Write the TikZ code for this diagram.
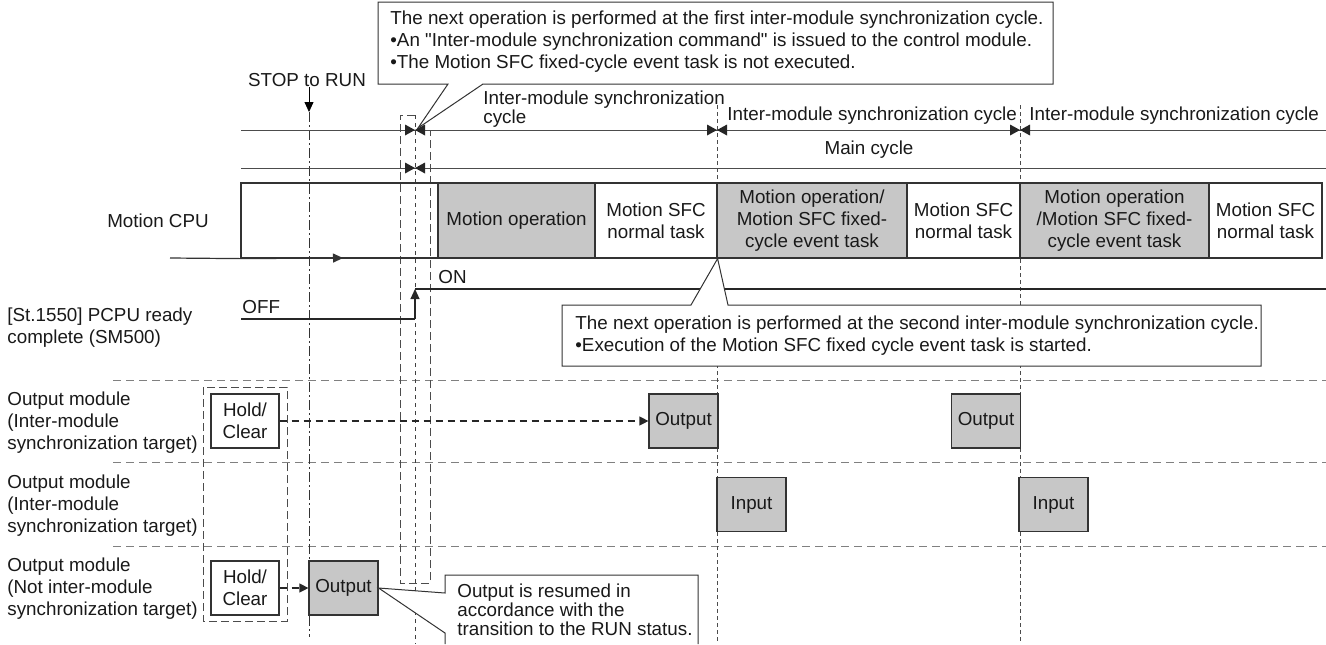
\documentclass[tikz,border=0pt]{standalone}
\usepackage{fontspec}
\setmainfont{Liberation Sans}
\newfontfamily\rawfont{Liberation Sans}
\usetikzlibrary{arrows.meta}

% two filled triangles meeting at a cycle boundary
\newcommand{\syncmark}[1]{\fill[black!85,shift={(#1)}] (-10,-5.5) -- (0,0) -- (-10,5.5) -- cycle (10,-5.5) -- (0,0) -- (10,5.5) -- cycle;}
\newcommand{\qt}{{\rawfont"}}

\begin{document}
\begin{tikzpicture}[x=0.5pt,y=-0.5pt,
	every node/.style={font=\fontsize{9.4}{11}\selectfont, text=black!90, inner sep=0pt},
	lbl/.style={anchor=west, align=left},
	task/.style={draw=black!80, line width=0.6pt, minimum height=37.5pt, align=center},
	busy/.style={task, fill=black!22},
	io/.style={draw=black!80, line width=0.6pt, fill=black!22, minimum width=34.5pt, minimum height=27pt},
	holdbox/.style={draw=black!80, line width=0.6pt, fill=white, minimum width=34pt, minimum height=27pt, align=center},
	callout/.style={draw=black!80, line width=0.5pt, fill=white},
	cycleline/.style={black!70, line width=0.5pt},
	syncline/.style={black!70, line width=0.5pt, dash pattern=on 2pt off 1.5pt},
	stopline/.style={black!80, line width=0.5pt, dash pattern=on 5pt off 1.5pt on 1pt off 1.5pt},
	longdash/.style={black!70, line width=0.5pt, dash pattern=on 4pt off 2pt},
	shortdash/.style={black!75, line width=0.5pt, dash pattern=on 2pt off 2pt},
	rowline/.style={black!50, line width=0.5pt, dash pattern=on 4pt off 2.5pt},
	flow/.style={black!85, line width=0.6pt, dash pattern=on 3.5pt off 2.5pt, -{Triangle[length=4.5pt,width=4.5pt]}},
	tip/.style={-{Triangle[length=5pt,width=4.5pt]}}
]
	\useasboundingbox (0,0) rectangle (1326,644);

	% module rows
	\foreach \y in {380,462,546}
		\draw[rowline] (113,\y) -- (1326,\y);

	% time marks
	\foreach \t in {717,1020}
		\draw[syncline] (\t,105) -- (\t,644);
	\node (stop) at (307,80) {STOP to RUN};
	\coordinate (stoptip) at (309,112);
	\coordinate (stopend) at (309,637);
	\draw[tip] (stop.south -| stoptip) -- (stoptip);
	\draw[stopline] (stoptip) -- (stopend);
	\draw[longdash] (415,115) -- (400,115) -- (400,583) -- (430,583) -- (430,130);
	\draw[shortdash] (415,115) -- (415,644);

	% cycles
	\draw[cycleline] (241,130) -- (1326,130);
	\draw[cycleline] (241,168) -- (1326,168);
	\syncmark{415,130} \syncmark{717,130} \syncmark{1020,130} \syncmark{415,168}
	\node[lbl, font=\fontsize{9.4}{8.5}\selectfont] (cyc1) at (483,109) {Inter-module synchronization\\cycle};
	\node[lbl] (cyc2) at (727,116) {Inter-module synchronization cycle};
	\node[lbl] (cyc3) at (1029,116) {Inter-module synchronization cycle};
	\node (main) at (869,150) {Main cycle};

	% Motion CPU
	\node (cpu) at (158,221) {Motion CPU};
	\node[task, minimum width=98.5pt] (b0) at (339.5,220.5) {};
	\node[busy, minimum width=78.5pt] (b1) at (516.5,220.5) {Motion operation};
	\node[task, minimum width=61pt] (b2) at (656,220.5) {Motion SFC\\normal task};
	\node[busy, minimum width=95pt] (b3) at (812,220.5) {Motion operation/\\Motion SFC fixed-\\cycle event task};
	\node[task, minimum width=56.5pt] (b4) at (963.5,220.5) {Motion SFC\\normal task};
	\node[busy, minimum width=94.5pt] (b5) at (1114.5,220.5) {Motion operation\\/Motion SFC fixed-\\cycle event task};
	\node[task, minimum width=56.5pt] (b6) at (1265.5,220.5) {Motion SFC\\normal task};
	\coordinate (cpu0) at (170,258);
	\coordinate (cpuarr) at (343,258);
	\draw[black!80, line width=0.6pt] (cpu0) -- (b0.south west);
	\draw[black!80, line width=0.6pt, tip] (b0.south west) -- (cpuarr);

	% PCPU ready complete
	\node[lbl] (pcpu) at (7,328) {[St.1550] PCPU ready\\complete (SM500)};
	\coordinate (off0) at (241,319);
	\coordinate (rise) at (415,319);
	\coordinate (on0) at (415,289);
	\coordinate (on1) at (1326,289);
	\draw[black!85, line width=0.6pt] (off0) -- (rise);
	\draw[black!85, line width=0.6pt, tip] (rise) -- (on0);
	\draw[black!85, line width=0.6pt] (on0) -- (on1);
	\node[lbl] (off) at (242,307) {OFF};
	\node[lbl] (on) at (438,277) {ON};

	% output / input modules
	\node[lbl] (mod1) at (7,423) {Output module\\(Inter-module\\synchronization target)};
	\node[lbl] (mod2) at (7,506) {Output module\\(Inter-module\\synchronization target)};
	\node[lbl] (mod3) at (7,589) {Output module\\(Not inter-module\\synchronization target)};
	\draw[longdash] (203,387) rectangle (287,621);
	\node[holdbox] (hold1) at (245,421) {Hold/\\Clear};
	\node[holdbox] (hold2) at (245,588) {Hold/\\Clear};
	\node[io] (out1) at (683.5,421) {Output};
	\node[io] (out2) at (986,421) {Output};
	\node[io] (in1) at (751.5,504.5) {Input};
	\node[io] (in2) at (1053.5,504.5) {Input};
	\node[io] (out3) at (343.5,588) {Output};
	\draw[flow] (hold1.east) -- (out1.west);
	\draw[flow] (hold2.east) -- (out3.west);

	% notes
	\draw[callout] (378,2) -- (1053,2) -- (1053,84) -- (483,84) -- (418,128) -- (448,84) -- (378,84) -- cycle;
	\node[lbl] (note1) at (390,42) {The next operation is performed at the first inter-module synchronization cycle.\\
		•An \qt Inter-module synchronization command\qt{} is issued to the control module.\\
		•The Motion SFC fixed-cycle event task is not executed.};
	\draw[callout] (562,305) -- (691,305) -- (b2.south east) -- (728,305) -- (1261,305) -- (1261,366) -- (562,366) -- cycle;
	\node[lbl] (note2) at (575,336) {The next operation is performed at the second inter-module synchronization cycle.\\
		•Execution of the Motion SFC fixed cycle event task is started.};
	\draw[callout] (445,644) -- (445,633) -- (out3.east) -- (445,593) -- (445,575) -- (698,575) -- (698,644);
	\node[lbl, font=\fontsize{9.4}{9.5}\selectfont] (note3) at (457,610) {Output is resumed in\\accordance with the\\transition to the RUN status.};
\end{tikzpicture}
\end{document}
